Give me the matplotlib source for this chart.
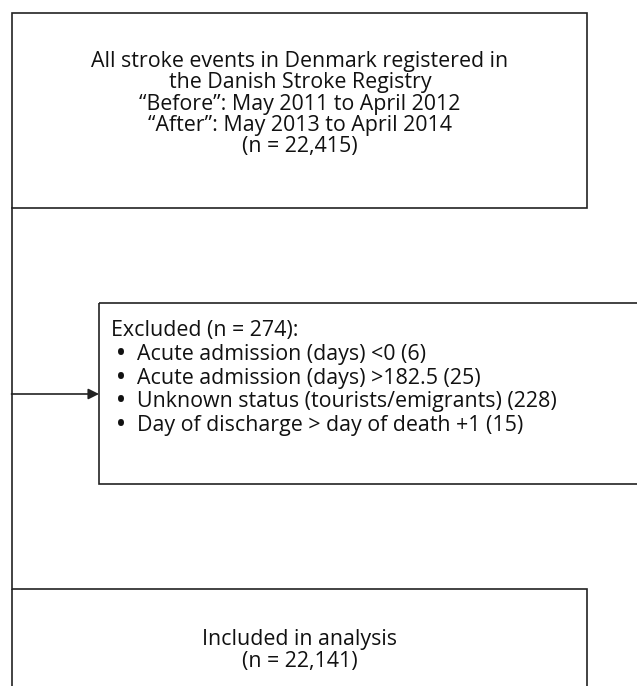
import matplotlib.pyplot as plt
from matplotlib.patches import Rectangle

plt.rcParams['font.family'] = ['Open Sans', 'DejaVu Sans']

top_lines = ["All stroke events in Denmark registered in",
             "the Danish Stroke Registry",
             "\u201cBefore\u201d: May 2011 to April 2012",
             "\u201cAfter\u201d: May 2013 to April 2014",
             "(n = 22,415)"]
excl_title = "Excluded (n = 274):"
excl_items = ["Acute admission (days) <0 (6)",
              "Acute admission (days) >182.5 (25)",
              "Unknown status (tourists/emigrants) (228)",
              "Day of discharge > day of death +1 (15)"]
bottom_lines = ["Included in analysis", "(n = 22,141)"]

W, H = 637, 686
fig = plt.figure(figsize=(W / 100, H / 100), dpi=100)
ax = fig.add_axes([0, 0, 1, 1])
ax.set_xlim(0, W)
ax.set_ylim(H, 0)
ax.axis('off')

lc = '#222222'
tc = '#111111'
lw = 1.2
fs = 15.4

# boxes (pixel coords, y down)
ax.add_patch(Rectangle((11.5, 13), 575, 195, fill=False, ec=lc, lw=lw))
ax.add_patch(Rectangle((99, 303), 560, 181, fill=False, ec=lc, lw=lw))
ax.add_patch(Rectangle((11.5, 589), 575, 120, fill=False, ec=lc, lw=lw))

# connector + arrow
ax.plot([11.5, 11.5], [208, 589], color=lc, lw=lw)
ax.annotate("", xy=(99, 394), xytext=(11.5, 394),
            arrowprops=dict(arrowstyle='-|>', color=lc, lw=lw, mutation_scale=16,
                            shrinkA=0, shrinkB=0))

for i, s in enumerate(top_lines):
    ax.text(300, 67 + i * 21.3, s, ha='center', va='baseline', fontsize=fs, color=tc)

ax.text(111, 336, excl_title, ha='left', va='baseline', fontsize=fs, color=tc)
for i, s in enumerate(excl_items):
    y = 360 + i * 23.7
    ax.text(117, y, "\u2022", ha='left', va='baseline', fontsize=fs, color=tc,
            fontweight='bold')
    ax.text(137, y, s, ha='left', va='baseline', fontsize=fs, color=tc)

for i, s in enumerate(bottom_lines):
    ax.text(300, 645 + i * 22, s, ha='center', va='baseline', fontsize=fs, color=tc)

fig.savefig('out.png', dpi=100)
